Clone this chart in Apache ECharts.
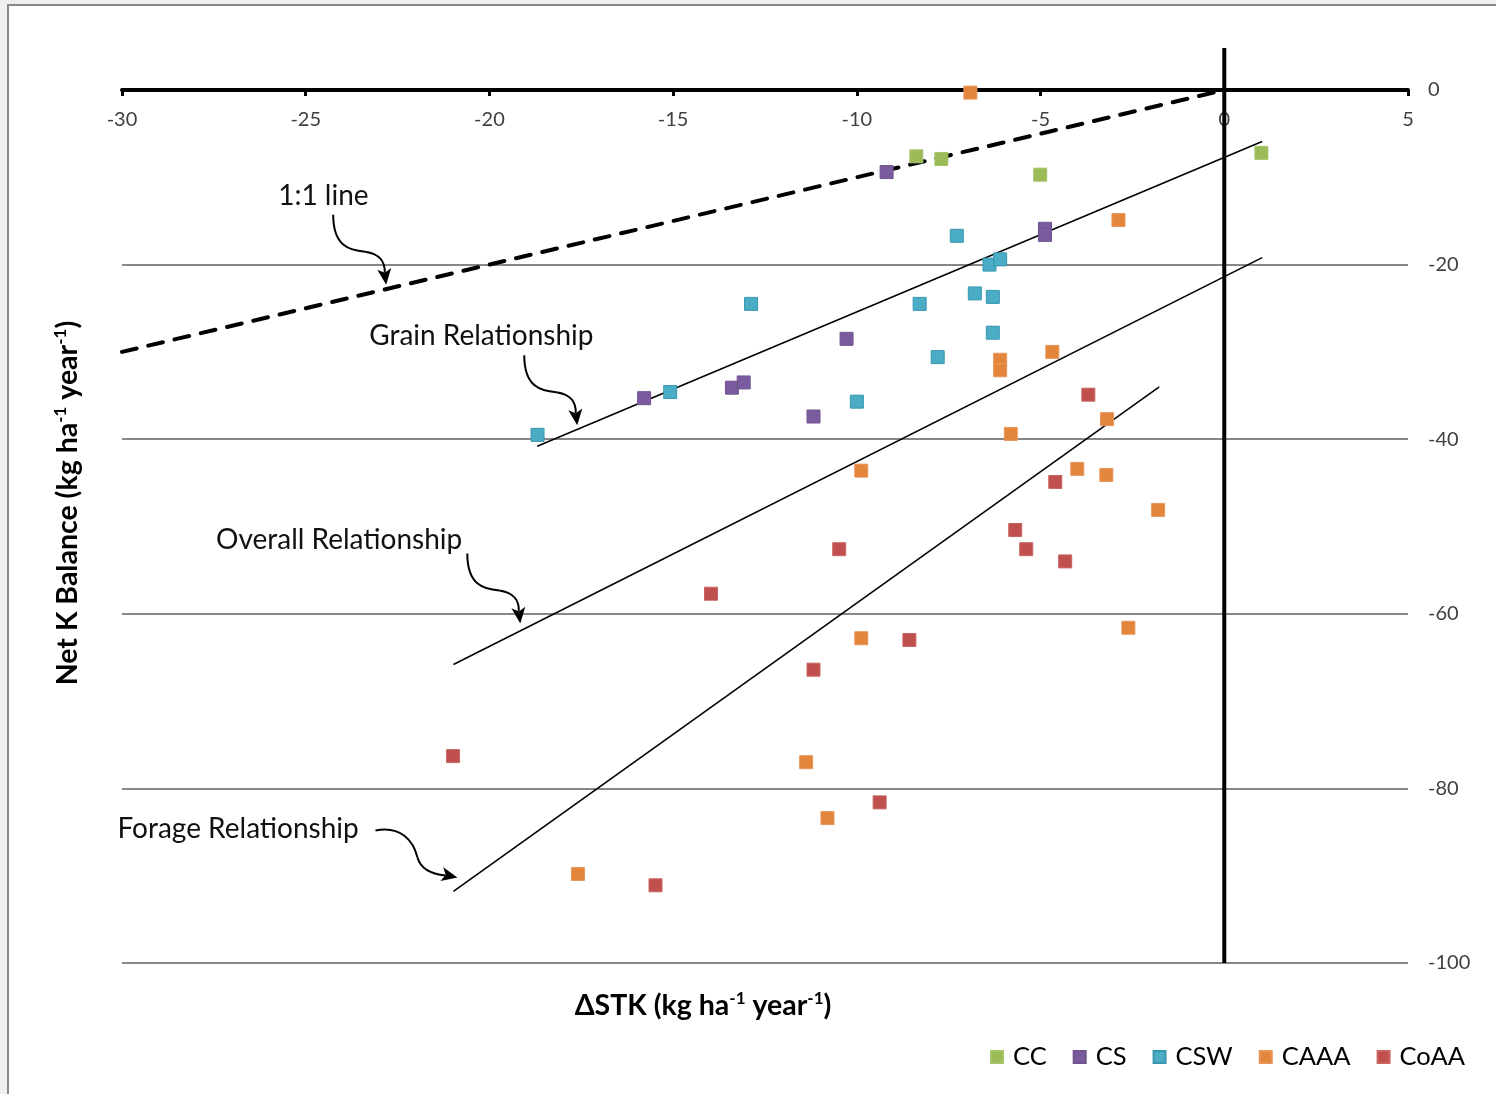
<!DOCTYPE html>
<html>
<head>
<meta charset="utf-8">
<script src="https://cdn.jsdelivr.net/npm/echarts@6/dist/echarts.min.js"></script>
<style>
  html, body { margin: 0; padding: 0; background: #efefef; }
  #frame { position: absolute; left: 7px; top: 4px; width: 1489px; height: 1090px;
           background: #fff; border-left: 2px solid #8a8a8a; border-top: 2px solid #8a8a8a; box-sizing: border-box; }
  #chart { position: absolute; left: 0; top: 0; width: 1496px; height: 1094px; }
</style>
</head>
<body>
<div id="frame"></div>
<div id="chart"></div>
<script>
(function() {
  // axis ranges
  var xMin = -30, xMax = 5, xStep = 5;
  var yMin = -100, yMax = 0, yStep = 20;

  // scatter data [ΔSTK, Net K balance]
  var ccData = [[-8.38, -7.6], [-7.70, -7.9], [-5.01, -9.7], [1.01, -7.2]];
  var csData = [[-9.19, -9.4], [-10.28, -28.5], [-15.79, -35.3], [-13.40, -34.1], [-13.08, -33.5],
                [-11.18, -37.4], [-4.88, -15.9], [-4.88, -16.6]];
  var cswData = [[-18.69, -39.5], [-15.08, -34.6], [-12.88, -24.5], [-10.0, -35.7], [-7.28, -16.7],
                 [-6.39, -20.0], [-6.10, -19.4], [-8.29, -24.5], [-6.79, -23.3], [-6.30, -23.7],
                 [-6.30, -27.8], [-7.80, -30.6]];
  var caaaData = [[-6.91, -0.3], [-2.88, -14.9], [-4.68, -30.0], [-6.10, -30.9], [-6.10, -32.1],
                  [-3.19, -37.7], [-5.81, -39.4], [-9.88, -43.6], [-9.88, -62.8], [-11.38, -77.0],
                  [-10.80, -83.4], [-17.59, -89.8], [-4.0, -43.4], [-3.21, -44.1], [-1.80, -48.1],
                  [-2.61, -61.6]];
  var coaaData = [[-3.70, -34.9], [-4.60, -44.9], [-5.69, -50.4], [-5.39, -52.6], [-4.33, -54.0],
                  [-10.48, -52.6], [-13.97, -57.7], [-8.57, -63.0], [-11.18, -66.4], [-20.99, -76.3],
                  [-9.38, -81.6], [-15.48, -91.1]];

  // relationship lines
  var oneToOne = [[-30, -30], [0, 0]];
  var grainFit = [[-18.70, -40.8], [1.03, -5.9]];
  var overallFit = [[-20.98, -65.8], [1.03, -19.2]];
  var forageFit = [[-20.98, -91.8], [-1.77, -34.0]];

  var font = 'Lato, "Open Sans", sans-serif';
  var labelColor = '#404040';

  function scatter(name, data, color, border) {
    return {
      name: name, type: 'scatter', data: data,
      symbol: 'rect', symbolSize: 13,
      itemStyle: { color: color, borderColor: border, borderWidth: 1, opacity: 1 },
      z: 4
    };
  }
  function fitLine(data, style) {
    return {
      type: 'line', data: data, symbol: 'none', silent: true,
      lineStyle: style, z: 3
    };
  }

  var chart = echarts.init(document.getElementById('chart'), null, { renderer: 'canvas' });
  chart.setOption({
    animation: false,
    textStyle: { fontFamily: font },
    grid: { left: 122, right: 88, top: 90, bottom: 131 },
    legend: {
      data: ['CC', 'CS', 'CSW', 'CAAA', 'CoAA'],
      right: 26, top: 1039,
      itemWidth: 12, itemHeight: 12, itemGap: 26,
      textStyle: { fontSize: 25.5, color: '#000', fontFamily: font, padding: [0, 0, 0, 5] }
    },
    xAxis: {
      type: 'value', min: xMin, max: xMax, interval: xStep, position: 'top',
      axisLine: { onZero: false, lineStyle: { color: '#000', width: 4 } },
      axisTick: { show: true, inside: true, length: 6, lineStyle: { color: '#000', width: 3 } },
      axisLabel: { inside: true, color: labelColor, fontSize: 20, margin: 20, fontFamily: font },
      splitLine: { show: false }
    },
    yAxis: {
      type: 'value', min: yMin, max: yMax, interval: yStep, position: 'right',
      axisLine: { show: false, onZero: false },
      axisTick: { show: false },
      axisLabel: { color: labelColor, fontSize: 20, margin: 20, fontFamily: font },
      splitLine: { show: true, showMaxLine: false, lineStyle: { color: '#878787', width: 2 } }
    },
    series: [
      scatter('CC', ccData, '#9BBB59', '#a6c46a'),
      scatter('CS', csData, '#7A5C9E', '#6f548f'),
      scatter('CSW', cswData, '#4BACC6', '#3996ae'),
      scatter('CAAA', caaaData, '#E3863C', '#e8955a'),
      scatter('CoAA', coaaData, '#C0504D', '#c96663'),
      fitLine(oneToOne, { color: '#000', width: 4, type: [15, 12], cap: 'round' }),
      fitLine(grainFit, { color: '#000', width: 1.6 }),
      fitLine(overallFit, { color: '#000', width: 1.6 }),
      fitLine(forageFit, { color: '#000', width: 1.6 })
    ]
  });

  // annotations: text anchors and arrow tips in data units
  var notes = [
    { text: '1:1 line', at: [-24.52, -12.1] },
    { text: 'Grain Relationship', at: [-20.22, -28.2] },
    { text: 'Overall Relationship', at: [-24.09, -51.6] },
    { text: 'Forage Relationship', at: [-26.84, -84.7] }
  ];
  var downArrow = [[-53, -70, -53, -38, -36, -34, -21, -33], [-21, -33, -6, -31, -1, -22, -1.5, -12]];
  var rightArrow = [[-82, -47, -56, -52, -44, -36, -40, -20], [-40, -20, -36, -6, -22, -3, -12, -2]];
  var arrows = [
    { tip: [-22.81, -22.3], path: downArrow, dir: [0.12, 0.99] },
    { tip: [-17.61, -38.4], path: downArrow, dir: [0.12, 0.99] },
    { tip: [-19.16, -61.1], path: downArrow, dir: [0.12, 0.99] },
    { tip: [-20.87, -90.2], path: rightArrow, dir: [0.96, 0.2] }
  ];

  function head(d) {
    var len = 16, w = 7, n = 12, nx = -d[1], ny = d[0];
    return [[0, 0], [-d[0] * len + nx * w, -d[1] * len + ny * w], [-d[0] * n, -d[1] * n],
            [-d[0] * len - nx * w, -d[1] * len - ny * w]];
  }

  var sup = { fontSize: 17, fontWeight: 'bold', fontFamily: font, verticalAlign: 'top', lineHeight: 32, fill: '#000' };
  var main = { fontSize: 28.5, fontWeight: 'bold', fontFamily: font, lineHeight: 32, fill: '#000' };
  var graphic = [];
  notes.forEach(function(n) {
    var p = chart.convertToPixel({ gridIndex: 0 }, n.at);
    graphic.push({
      type: 'text', x: p[0], y: p[1], z: 10,
      style: { text: n.text, fontSize: 28, fontFamily: font, fill: '#111', align: 'center', verticalAlign: 'middle' }
    });
  });
  arrows.forEach(function(a) {
    var p = chart.convertToPixel({ gridIndex: 0 }, a.tip);
    var len = Math.sqrt(a.dir[0] * a.dir[0] + a.dir[1] * a.dir[1]);
    var d = [a.dir[0] / len, a.dir[1] / len];
    var kids = a.path.map(function(s) {
      return {
        type: 'bezierCurve',
        shape: { x1: s[0], y1: s[1], cpx1: s[2], cpy1: s[3], cpx2: s[4], cpy2: s[5], x2: s[6], y2: s[7] },
        style: { fill: null, stroke: '#000', lineWidth: 2 }
      };
    });
    kids.push({ type: 'polygon', shape: { points: head(d) }, style: { fill: '#000' } });
    graphic.push({ type: 'group', x: p[0], y: p[1], z: 10, children: kids });
  });

  // y = 0 axis line, carried a little above the plot like the original
  var top0 = chart.convertToPixel({ gridIndex: 0 }, [0, yMax]);
  var bot0 = chart.convertToPixel({ gridIndex: 0 }, [0, yMin]);
  graphic.push({
    type: 'line', z: 5,
    shape: { x1: top0[0], y1: top0[1] - 42, x2: bot0[0], y2: bot0[1] },
    style: { stroke: '#000', lineWidth: 4 }
  });

  graphic.push({
    type: 'text', x: 703, y: 1006, z: 10,
    style: {
      text: '{m|ΔSTK (kg ha}{s|-1}{m| year}{s|-1}{m|)}',
      rich: { m: main, s: sup }, align: 'center', verticalAlign: 'middle'
    }
  });
  graphic.push({
    type: 'text', x: 68, y: 503, rotation: Math.PI / 2, z: 10,
    style: {
      text: '{m|Net K Balance (kg ha}{s|-1}{m| year}{s|-1}{m|)}',
      rich: { m: main, s: sup }, align: 'center', verticalAlign: 'middle'
    }
  });
  chart.setOption({ graphic: graphic });

  window.addEventListener('resize', function() { chart.resize(); });
})();
</script>
</body>
</html>
